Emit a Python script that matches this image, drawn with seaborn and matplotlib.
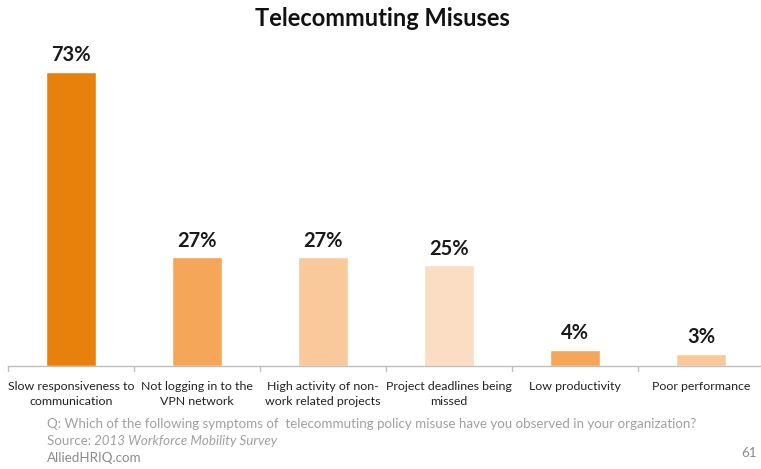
import matplotlib
matplotlib.use("Agg")
import matplotlib.pyplot as plt
import seaborn as sns
import pandas as pd

categories = [
    "Slow responsiveness to\ncommunication",
    "Not logging in to the\nVPN network",
    "High activity of non-\nwork related projects",
    "Project deadlines being\nmissed",
    "Low productivity",
    "Poor performance",
]
values = [73, 27, 27, 25, 4, 3]
bar_colors = ["#E8810C", "#F6A658", "#F9C99C", "#FBDDC3", "#F6A658", "#F9C99C"]

title = "Telecommuting Misuses"
question = "Q: Which of the following symptoms of  telecommuting policy misuse have you observed in your organization?"
source_label = "Source: "
source_name = "2013 Workforce Mobility Survey"
site = "AlliedHRIQ.com"
page = "61"

sns.set_theme(style="white")
plt.rcParams["font.family"] = ["Lato", "DejaVu Sans"]

df = pd.DataFrame({"category": categories, "value": values})

W, H = 761, 469
fig = plt.figure(figsize=(W / 100, H / 100), dpi=100)
ax = fig.add_axes([8 / W, (H - 366) / H, 756 / W, (366 - 40) / H])

sns.barplot(data=df, x="category", y="value", hue="category",
            palette=bar_colors, width=0.40, legend=False, ax=ax,
            saturation=1)

ax.set_xlim(-0.5, len(categories) - 0.5)
ax.set_ylim(0, 326 / 4.03)
ax.set_xlabel("")
ax.set_ylabel("")
ax.set_yticks([])
ax.set_xticks([])
for side in ["left", "right", "top"]:
    ax.spines[side].set_visible(False)
ax.spines["bottom"].set_color("#BFBFBF")
ax.spines["bottom"].set_linewidth(1.0)

# boundary tick marks between categories
for b in range(len(categories) + 1):
    ax.plot([b - 0.5, b - 0.5], [0, -1.2], color="#BFBFBF", lw=1.0,
            clip_on=False)

# category labels under the axis
for i, cat in enumerate(categories):
    ax.text(i, -3.7, cat, ha="center", va="top", fontsize=8.9,
            color="#222222", linespacing=1.45)

# value labels above bars
for i, v in enumerate(values):
    ax.text(i, v + 1.6, f"{v}%", ha="center", va="bottom",
            fontsize=14.5, fontweight="bold", color="#1a1a1a")

fig.text(382 / W, 1 - 18 / H, title, ha="center", va="center",
         fontsize=17, fontweight="bold", color="#111111")

fs = 9.6
fig.text(47 / W, 1 - 424 / H, question, ha="left", va="center",
         fontsize=fs, color="#a0a0a0")
t = fig.text(47 / W, 1 - 441 / H, source_label, ha="left", va="center",
             fontsize=fs, color="#a0a0a0")
fig.canvas.draw()
bb = t.get_window_extent()
fig.text(bb.x1 / W, 1 - 441 / H, source_name, ha="left", va="center",
         fontsize=fs, color="#a0a0a0", style="italic")
fig.text(47 / W, 1 - 458 / H, site, ha="left", va="center",
         fontsize=fs, color="#8a8a8a")
fig.text(757 / W, 1 - 453 / H, page, ha="right", va="center",
         fontsize=fs, color="#8a8a8a")

fig.savefig("out.png", dpi=100)
